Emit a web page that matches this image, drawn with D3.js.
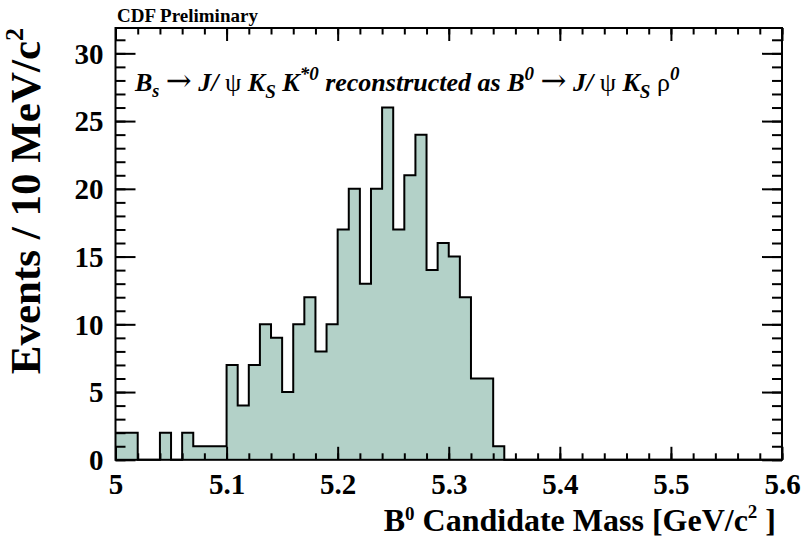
<!DOCTYPE html>
<html>
<head>
<meta charset="utf-8">
<script src="https://cdn.jsdelivr.net/npm/d3@7/dist/d3.min.js"></script>
<style>
  html, body { margin: 0; padding: 0; background: #fff; }
  svg { display: block; }
  text { font-family: "Liberation Serif", "Times New Roman", serif; font-weight: bold; fill: #000; }
</style>
</head>
<body>
<svg id="chart" width="806" height="544"></svg>
<script>
// Histogram: B0 candidate mass, 10 MeV bins from 5.00 to 5.60 GeV/c^2
const binLow = 5.0;
const binWidth = 0.01;
const counts = [
  2, 2, 0, 0, 2, 0, 2, 1, 1, 1,
  7, 4, 7, 10, 9, 5, 10, 12, 8, 10,
  17, 20, 13, 20, 26, 17, 21, 24, 14, 16,
  15, 12, 6, 6, 1, 0, 0, 0, 0, 0,
  0, 0, 0, 0, 0, 0, 0, 0, 0, 0,
  0, 0, 0, 0, 0, 0, 0, 0, 0, 0
];
const xTickValues = [5.0, 5.1, 5.2, 5.3, 5.4, 5.5, 5.6];
const xTickLabels = ["5", "5.1", "5.2", "5.3", "5.4", "5.5", "5.6"];
const yTickValues = [0, 5, 10, 15, 20, 25, 30];
const xDomain = [5.0, 5.6];
const yDomain = [0, 31.87];

const svg = d3.select("#chart");
const frame = { left: 115.5, right: 782, top: 28, bottom: 459.8 };

const x = d3.scaleLinear().domain(xDomain).range([frame.left, frame.right]);
const y = d3.scaleLinear().domain(yDomain).range([frame.bottom, frame.top]);

// step points: one per bin low edge, plus closing edge
const pts = counts.map((c, i) => ({ x: binLow + i * binWidth, c }));
pts.push({ x: binLow + counts.length * binWidth, c: counts[counts.length - 1] });

const area = d3.area()
  .x(d => x(d.x)).y0(y(0)).y1(d => y(d.c))
  .curve(d3.curveStepAfter);
const line = d3.line()
  .x(d => x(d.x)).y(d => y(d.c))
  .curve(d3.curveStepAfter);

svg.append("path").attr("d", area(pts)).attr("fill", "#b3d1c8");
svg.append("path").attr("d", line(pts))
  .attr("fill", "none").attr("stroke", "#000").attr("stroke-width", 2)
  .attr("stroke-linejoin", "miter");

// tick marks (inward on all four sides)
const xMajorLen = 13, xMinorLen = 6.5, yMajorLen = 20, yMinorLen = 10;
const xMinor = d3.range(0, 31).map(i => 5.0 + i * 0.02);
const yMinor = d3.range(0, 32);

function drawAxis(gen, transform) {
  const g = svg.append("g").attr("transform", transform).call(gen);
  g.select(".domain").remove();
  g.selectAll(".tick line").attr("stroke", "#000").attr("stroke-width", 2);
  return g;
}

// bottom
const xb = drawAxis(d3.axisBottom(x).tickValues(xTickValues).tickSize(-xMajorLen)
  .tickFormat((d, i) => xTickLabels[i]).tickPadding(14), `translate(0,${frame.bottom})`);
xb.selectAll("text").attr("font-size", 29).attr("dy", "0.71em");
drawAxis(d3.axisBottom(x).tickValues(xMinor).tickSize(-xMinorLen).tickFormat(""), `translate(0,${frame.bottom})`);
// top
drawAxis(d3.axisTop(x).tickValues(xTickValues).tickSize(-xMajorLen).tickFormat(""), `translate(0,${frame.top})`);
drawAxis(d3.axisTop(x).tickValues(xMinor).tickSize(-xMinorLen).tickFormat(""), `translate(0,${frame.top})`);
// left
const yl = drawAxis(d3.axisLeft(y).tickValues(yTickValues).tickSize(-yMajorLen)
  .tickPadding(12), `translate(${frame.left},0)`);
yl.selectAll("text").attr("font-size", 29).attr("dy", "0.34em");
drawAxis(d3.axisLeft(y).tickValues(yMinor).tickSize(-yMinorLen).tickFormat(""), `translate(${frame.left},0)`);
// right
drawAxis(d3.axisRight(y).tickValues(yTickValues).tickSize(-yMajorLen).tickFormat(""), `translate(${frame.right},0)`);
drawAxis(d3.axisRight(y).tickValues(yMinor).tickSize(-yMinorLen).tickFormat(""), `translate(${frame.right},0)`);

// frame
svg.append("rect")
  .attr("x", frame.left).attr("y", frame.top)
  .attr("width", frame.right - frame.left).attr("height", frame.bottom - frame.top)
  .attr("fill", "none").attr("stroke", "#000").attr("stroke-width", 2);

// header
svg.append("text").attr("x", 117).attr("y", 22).attr("font-size", 19).text("CDF Preliminary");

// decay label
const title = svg.append("text").attr("x", 135).attr("y", 91).attr("font-size", 26)
  .attr("font-style", "italic");
function seg(t, opts = {}) {
  const s = title.append("tspan").text(t);
  if (opts.dy) s.attr("dy", opts.dy);
  if (opts.size) s.attr("font-size", opts.size);
  if (opts.upright) s.attr("font-style", "normal").attr("font-weight", "normal");
  if (opts.family) s.style("font-family", opts.family);
  return s;
}
const arrow = { upright: true, size: 31, family: "'DejaVu Serif', serif" };
seg("B");
seg("s", { dy: 6, size: 18 });
seg(" ", { dy: -6 });
seg("\u2192", arrow);
seg(" J/ ");
seg("\u03C8", { upright: true });
seg(" K");
seg("S", { dy: 7, size: 19 });
seg(" K", { dy: -7 });
seg("*0", { dy: -11, size: 19 });
seg(" reconstructed as B", { dy: 11 });
seg("0", { dy: -11, size: 19 });
seg(" ", { dy: 11 });
seg("\u2192", arrow);
seg(" J/ ");
seg("\u03C8", { upright: true });
seg(" K");
seg("S", { dy: 7, size: 19 });
seg(" ", { dy: -7 });
seg("\u03C1", { upright: true });
seg("0", { dy: -11, size: 19 });

// x-axis title
const xt = svg.append("text").attr("x", 776).attr("y", 531).attr("font-size", 32)
  .attr("text-anchor", "end");
xt.append("tspan").text("B");
xt.append("tspan").text("0").attr("dy", -11).attr("font-size", 19);
xt.append("tspan").text(" Candidate Mass [GeV/c").attr("dy", 11);
xt.append("tspan").text("2").attr("dy", -13).attr("font-size", 19);
xt.append("tspan").text(" ]").attr("dy", 13);

// y-axis title
const yt = svg.append("text").attr("transform", "translate(40,28) rotate(-90)")
  .attr("font-size", 43).attr("text-anchor", "end");
yt.append("tspan").text("Events / 10 MeV/c");
yt.append("tspan").text("2").attr("dy", -17).attr("font-size", 26);
</script>
</body>
</html>
